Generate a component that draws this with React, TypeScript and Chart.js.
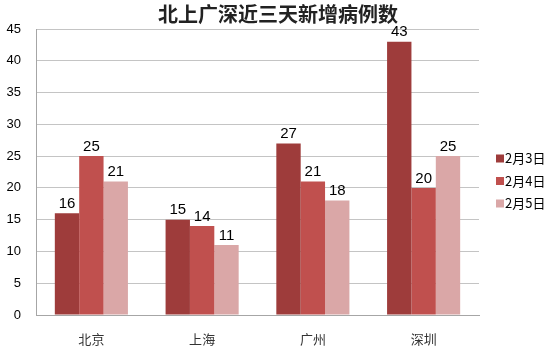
import React, { useEffect, useRef } from "react";
import { Chart, registerables } from "chart.js";

Chart.register(...registerables);

const categories = ["北京", "上海", "广州", "深圳"];
const seriesNames = ["2月3日", "2月4日", "2月5日"];
const feb3 = [16, 15, 27, 43];
const feb4 = [25, 14, 21, 20];
const feb5 = [21, 11, 18, 25];
const colors = ["#9e3c3b", "#c0504e", "#daa7a7"];
const titleText = "北上广深近三天新增病例数";

const valueLabels = {
  id: "valueLabels",
  afterDatasetsDraw(chart: any) {
    const ctx = chart.ctx;
    ctx.save();
    ctx.font = "15px 'Liberation Sans', Arial, sans-serif";
    ctx.fillStyle = "#000";
    ctx.textAlign = "center";
    ctx.textBaseline = "bottom";
    chart.data.datasets.forEach((ds: any, i: number) => {
      const meta = chart.getDatasetMeta(i);
      meta.data.forEach((bar: any, j: number) => {
        ctx.fillText(String(ds.data[j]), bar.x, bar.y - 2);
      });
    });
    ctx.restore();
  },
};

const centeredTitle = {
  id: "centeredTitle",
  afterDraw(chart: any) {
    const ctx = chart.ctx;
    ctx.save();
    ctx.font = "bold 20px 'Noto Sans CJK SC', sans-serif";
    ctx.fillStyle = "#222";
    ctx.textAlign = "center";
    ctx.textBaseline = "middle";
    ctx.fillText(titleText, chart.width / 2 + 1, 14);
    ctx.restore();
  },
};

const sideLegend = {
  id: "sideLegend",
  afterDraw(chart: any) {
    const ctx = chart.ctx;
    const area = chart.chartArea;
    const x = area.right + 17;
    const rowGap = 22.5;
    const n = chart.data.datasets.length;
    const cy = (area.top + area.bottom) / 2 + 9;
    ctx.save();
    ctx.font = "13px 'Noto Sans CJK SC', sans-serif";
    ctx.textBaseline = "middle";
    ctx.textAlign = "left";
    chart.data.datasets.forEach((ds: any, i: number) => {
      const y = cy + (i - (n - 1) / 2) * rowGap;
      ctx.fillStyle = ds.backgroundColor;
      ctx.fillRect(x, y - 4, 8, 8);
      ctx.fillStyle = "#000";
      ctx.fillText(ds.label, x + 9, y);
    });
    ctx.restore();
  },
};

export default function App() {
  const ref = useRef<HTMLCanvasElement | null>(null);
  useEffect(() => {
    document.body.style.margin = "0";
    const chart = new Chart(ref.current!, {
      type: "bar",
      data: {
        labels: categories,
        datasets: [feb3, feb4, feb5].map((d, i) => ({
          label: seriesNames[i],
          data: d,
          backgroundColor: colors[i],
          borderWidth: 0,
          categoryPercentage: 0.66,
          barPercentage: 1,
        })),
      },
      options: {
        animation: false,
        responsive: false,
        maintainAspectRatio: false,
        layout: { padding: { top: 29, right: 75, bottom: 0, left: 0 } },
        plugins: {
          title: { display: false },
          legend: { display: false },
          tooltip: { enabled: false },
        },
        scales: {
          x: {
            grid: { display: false },
            border: { color: "#a6a6a6" },
            afterFit(scale: any) {
              scale.height = 32;
            },
            ticks: {
              color: "#333",
              padding: 8,
              font: { size: 13, family: "'Noto Sans CJK SC', sans-serif" },
            },
          },
          y: {
            min: 0,
            max: 45,
            afterFit(scale: any) {
              scale.width = 36;
            },
            ticks: {
              stepSize: 5,
              color: "#000",
              padding: 15,
              font: { size: 13, family: "'Liberation Sans', Arial, sans-serif" },
            },
            grid: { color: "#c4c4c4", drawTicks: false },
            border: { color: "#a6a6a6" },
          },
        },
      },
      plugins: [valueLabels, centeredTitle, sideLegend],
    });
    return () => chart.destroy();
  }, []);
  return (
    <div style={{ width: 554, height: 347 }}>
      <canvas ref={ref} width={554} height={347} />
    </div>
  );
}
